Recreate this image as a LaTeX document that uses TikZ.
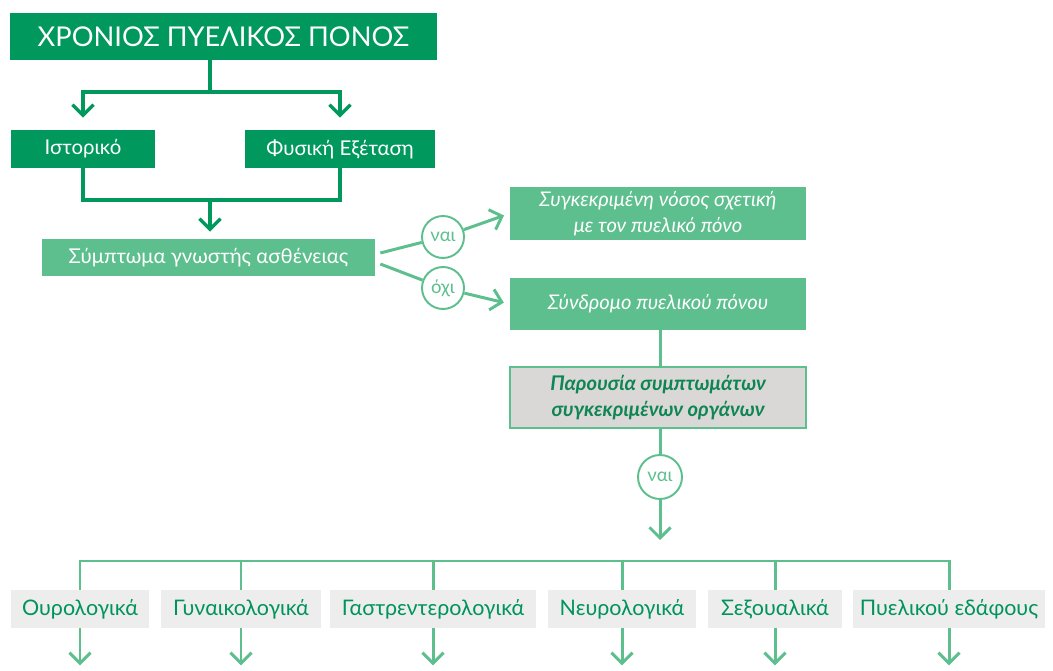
\documentclass[tikz,border=0pt]{standalone}
\usepackage{fontspec}
\setmainfont{Lato}
\usetikzlibrary{arrows.meta}
\definecolor{darkgreen}{HTML}{00985D}
\definecolor{lightgreen}{HTML}{5DBF8E}
\definecolor{boxgray}{HTML}{DAD8D7}
\definecolor{paleGray}{HTML}{EDEDED}
\definecolor{textgreen}{HTML}{00945A}
\definecolor{organgreen}{HTML}{0E8552}

\begin{document}
\begin{tikzpicture}[x=0.02cm, y=-0.02cm,
    darkbox/.style={fill=darkgreen, text=white, inner sep=0pt, font=\fontsize{11.6}{13}\selectfont},
    lightbox/.style={fill=lightgreen, text=white, inner sep=0pt, align=center,
        minimum width=5.92cm, font=\fontsize{11.5}{14.5}\selectfont\itshape},
    organbox/.style={fill=paleGray, text=textgreen, inner sep=0pt,
        minimum height=0.76cm, font=\fontsize{12.2}{14}\selectfont},
    answer/.style={circle, draw=lightgreen, line width=1.1pt, fill=white, text=lightgreen,
        inner sep=0pt, minimum size=0.84cm, font=\fontsize{10.5}{11}\selectfont},
    dline/.style={draw=darkgreen, line width=1.9pt},
    darrow/.style={dline, -{Straight Barb[length=6pt, width=12pt, line width=1.9pt]}},
    lline/.style={draw=lightgreen, line width=1.7pt},
    larrow/.style={lline, -{Straight Barb[length=6pt, width=12pt, line width=1.7pt]}}]
    \useasboundingbox (0,0) rectangle (1053,671);

    % top part
    \node[darkbox, minimum width=8.54cm, minimum height=0.94cm, font=\fontsize{15.5}{18}\selectfont] (title) at (223.5,36.5) {ΧΡΟΝΙΟΣ ΠΥΕΛΙΚΟΣ ΠΟΝΟΣ};
    \node[darkbox, minimum width=2.88cm, minimum height=0.76cm] (hist) at (83,149) {Ιστορικό};
    \node[darkbox, minimum width=3.8cm, minimum height=0.76cm] (exam) at (340,149) {Φυσική Εξέταση};
    \node[lightbox, minimum width=6.66cm, minimum height=0.74cm, font=\fontsize{11.6}{13}\selectfont] (symp) at (208.5,257.5) {Σύμπτωμα γνωστής ασθένειας};

    \coordinate (split) at (210,92);
    \coordinate (join) at (210,200);
    \draw[dline] (title.south -| split) -- (split);
    \draw[darrow, shorten >=0.24cm] (split) -| (hist.north);
    \draw[darrow, shorten >=0.24cm] (split) -| (exam.north);
    \draw[dline] (hist.south) |- (join) -| (exam.south);
    \draw[darrow, shorten >=0.14cm] (join) -- (join |- symp.north);

    % right branch
    \node[answer] (yes1) at (443,237) {ναι};
    \node[answer] (no1) at (443,288) {όχι};
    \node[lightbox, minimum height=1.06cm] (disease) at (658,213.5) {Συγκεκριμένη νόσος σχετική\\με τον πυελικό πόνο};
    \node[lightbox, minimum height=1.04cm] (syndr) at (658,304) {Σύνδρομο πυελικού πόνου};
    \node[lightbox, fill=boxgray, draw=lightgreen, line width=1.1pt, text=organgreen, minimum height=1.22cm,
        font=\fontsize{11.5}{14.5}\selectfont\bfseries\itshape] (organs) at (658,397.5) {Παρουσία συμπτωμάτων\\συγκεκριμένων οργάνων};
    \node[answer, minimum size=0.88cm] (yes2) at (660,477) {ναι};

    \draw[lline] ([xshift=0.1cm, yshift=0.09cm]symp.east) -- (yes1);
    \draw[lline] ([xshift=0.1cm, yshift=-0.13cm]symp.east) -- (no1);
    \draw[larrow, shorten >=0.12cm] (yes1) -- (disease.west);
    \draw[larrow, shorten >=0.12cm] (no1) -- (syndr.west);
    \draw[lline] (syndr.south -| yes2) -- (organs.north -| yes2);
    \draw[lline] (organs.south -| yes2) -- (yes2);

    % organ groups
    \node[organbox, minimum width=2.76cm] (uro) at (80,609) {Ουρολογικά};
    \node[organbox, minimum width=3.2cm] (gyn) at (241,609) {Γυναικολογικά};
    \node[organbox, minimum width=4.14cm] (gastro) at (433,609) {Γαστρεντερολογικά};
    \node[organbox, minimum width=2.98cm] (neuro) at (622,609) {Νευρολογικά};
    \node[organbox, minimum width=2.68cm] (sex) at (775,609) {Σεξουαλικά};
    \node[organbox, minimum width=3.84cm] (pelvic) at (949,609) {Πυελικού εδάφους};

    \coordinate (bus) at (660,561);
    \draw[larrow, shorten >=0.42cm] (yes2) -- (bus);
    \draw[lline] (uro.north) |- (bus) -| (pelvic.north);
    \foreach \n in {gyn,gastro,neuro,sex}
        \draw[lline] (\n.north) -- (\n.north |- bus);
    \foreach \n in {uro,gyn,gastro,neuro,sex,pelvic}
        \draw[larrow] (\n.south) -- ++(0,37) coordinate (\n-out);
\end{tikzpicture}
\end{document}
